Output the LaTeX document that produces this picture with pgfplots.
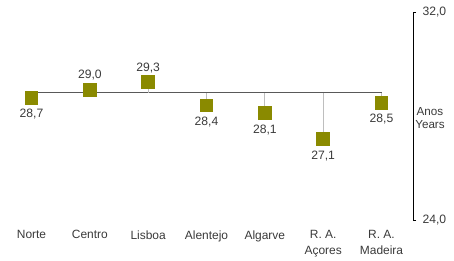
\documentclass[border=0pt]{standalone}
\usepackage{fontspec}
\setmainfont{Liberation Sans}
\usepackage{pgfplots}
\usepackage{pgfplotstable}
\pgfplotsset{compat=1.18}
\definecolor{mk}{RGB}{138,138,0}
\definecolor{txt}{RGB}{58,58,58}
\definecolor{avg}{RGB}{89,89,89}
\definecolor{drop}{RGB}{190,190,190}

\pgfplotstableread{
x v err
0 28.7 0.2
1 29.0 -0.1
2 29.3 -0.4
3 28.4 0.5
4 28.1 0.8
5 27.1 1.8
6 28.5 0.4
}\data
\pgfplotstableread{
x v
1 29.0
2 29.3
}\above
\pgfplotstableread{
x v
0 28.7
3 28.4
4 28.1
5 27.1
6 28.5
}\below

\begin{document}
\begin{tikzpicture}
\begin{axis}[
  scale only axis,
  width=413bp, height=208bp,
  xmin=-0.54, xmax=6.54,
  ymin=24, ymax=32,
  axis y line*=right,
  axis x line*=bottom,
  x axis line style={draw=none},
  xtick={0,1,2,3,4,5,6},
  xticklabels={Norte,Centro,Lisboa,Alentejo,Algarve,{R. A.\\Açores},{R. A.\\Madeira}},
  xtick style={draw=none},
  xticklabel style={align=center, anchor=north, yshift=-4bp, font=\fontsize{12}{15.5}\selectfont, text=txt},
  ytick={24,32},
  y axis line style={black, line width=0.8pt},
  ytick style={black, line width=0.8pt},
  tick align=outside,
  major tick length=3bp,
  yticklabel style={font=\fontsize{12.2}{14}\selectfont, text=txt, xshift=3bp},
  /pgf/number format/.cd, use comma, fixed, fixed zerofill, precision=1, assume math mode=true,
  /pgfplots/.cd,
  clip=false,
]
\addplot[avg, line width=1.6pt, no marks] coordinates {(0,28.9) (6,28.9)};
\addplot[draw=none, no marks, error bars/.cd, y dir=plus, y explicit,
  error mark=none, error bar style={drop, line width=1.2pt}]
  table[x=x, y=v, y error=err] {\data};
\addplot[only marks, mark=square*, mark size=6.4bp, mark options={draw=mk, fill=mk, line width=0pt},
  nodes near coords, point meta=y,
  every node near coord/.append style={anchor=south, yshift=8.5bp, inner sep=1bp,
    font=\fontsize{12.2}{14}\selectfont, text=txt}]
  table[x=x, y=v] {\above};
\addplot[only marks, mark=square*, mark size=6.4bp, mark options={draw=mk, fill=mk, line width=0pt},
  nodes near coords, point meta=y,
  every node near coord/.append style={anchor=north, yshift=-10.5bp, inner sep=1bp,
    font=\fontsize{12.2}{14}\selectfont, text=txt}]
  table[x=x, y=v] {\below};
\node[align=center, font=\fontsize{11.7}{13.5}\selectfont, text=txt] at (rel axis cs:1,0.49) [xshift=17bp] {Anos\\Years};
\end{axis}
\path[use as bounding box] (0,-38bp) rectangle (454bp,220bp);
\end{tikzpicture}
\end{document}
